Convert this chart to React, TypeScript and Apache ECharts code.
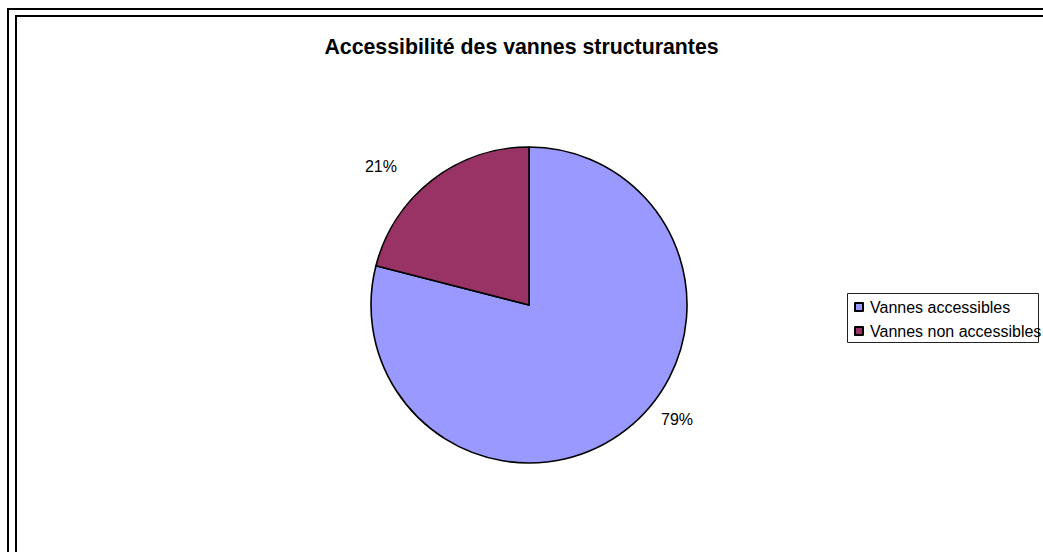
import React, { useEffect, useRef } from "react";
import * as echarts from "echarts";

const titleText = "Accessibilité des vannes structurantes";
const categories = ["Vannes accessibles", "Vannes non accessibles"];
const values = [79, 21];
const colors = ["#9999FF", "#993366"];

export default function App() {
  const ref = useRef<HTMLDivElement>(null);
  useEffect(() => {
    if (!ref.current) return;
    const chart = echarts.init(ref.current, null, { renderer: "svg" });
    const font = "'Liberation Sans', Arial, sans-serif";
    chart.setOption({
      animation: false,
      backgroundColor: "#ffffff",
      title: {
        text: titleText,
        left: "center",
        top: 36,
        padding: [0, 12, 0, 0],
        textStyle: { fontFamily: font, fontSize: 21.3, fontWeight: "bold", color: "#000" },
      },
      legend: {
        orient: "vertical",
        left: 854,
        top: 299,
        padding: 0,
        itemWidth: 8,
        itemHeight: 8,
        itemGap: 8,
        icon: "rect",
        data: categories,
        textStyle: { fontFamily: font, fontSize: 16, lineHeight: 16, color: "#000", padding: [0, 0, 0, 2] },
      },
      graphic: [
        { type: "rect", silent: true, z: -1, shape: { x: 8, y: 9, width: 1200, height: 700 }, style: { fill: "none", stroke: "#000", lineWidth: 2 } },
        { type: "rect", silent: true, z: -1, shape: { x: 16, y: 16, width: 1200, height: 700 }, style: { fill: "none", stroke: "#000", lineWidth: 2 } },
        { type: "rect", silent: true, shape: { x: 847.5, y: 293.5, width: 191, height: 49 }, style: { fill: "none", stroke: "#222", lineWidth: 1 } },
      ],
      series: [
        {
          type: "pie",
          center: [529, 305],
          radius: 158,
          startAngle: 90,
          clockwise: true,
          data: categories.map((c, i) => ({ name: c, value: values[i], itemStyle: { color: colors[i] } })),
          itemStyle: { borderColor: "#000", borderWidth: 1.6 },
          label: {
            show: true,
            position: "outside",
            formatter: (p: any) => `${p.value}%`,
            fontFamily: font,
            fontSize: 16,
            color: "#000",
          },
          labelLine: { show: false, length: 15, length2: 15 },
          labelLayout: (p: any) => (p.dataIndex === 0 ? { dx: 6, dy: -22 } : { dx: -6, dy: -2 }),
          emphasis: { disabled: true },
        },
      ],
    });
    return () => chart.dispose();
  }, []);
  return <div ref={ref} style={{ position: "fixed", left: 0, top: 0, width: 1043, height: 552 }} />;
}
